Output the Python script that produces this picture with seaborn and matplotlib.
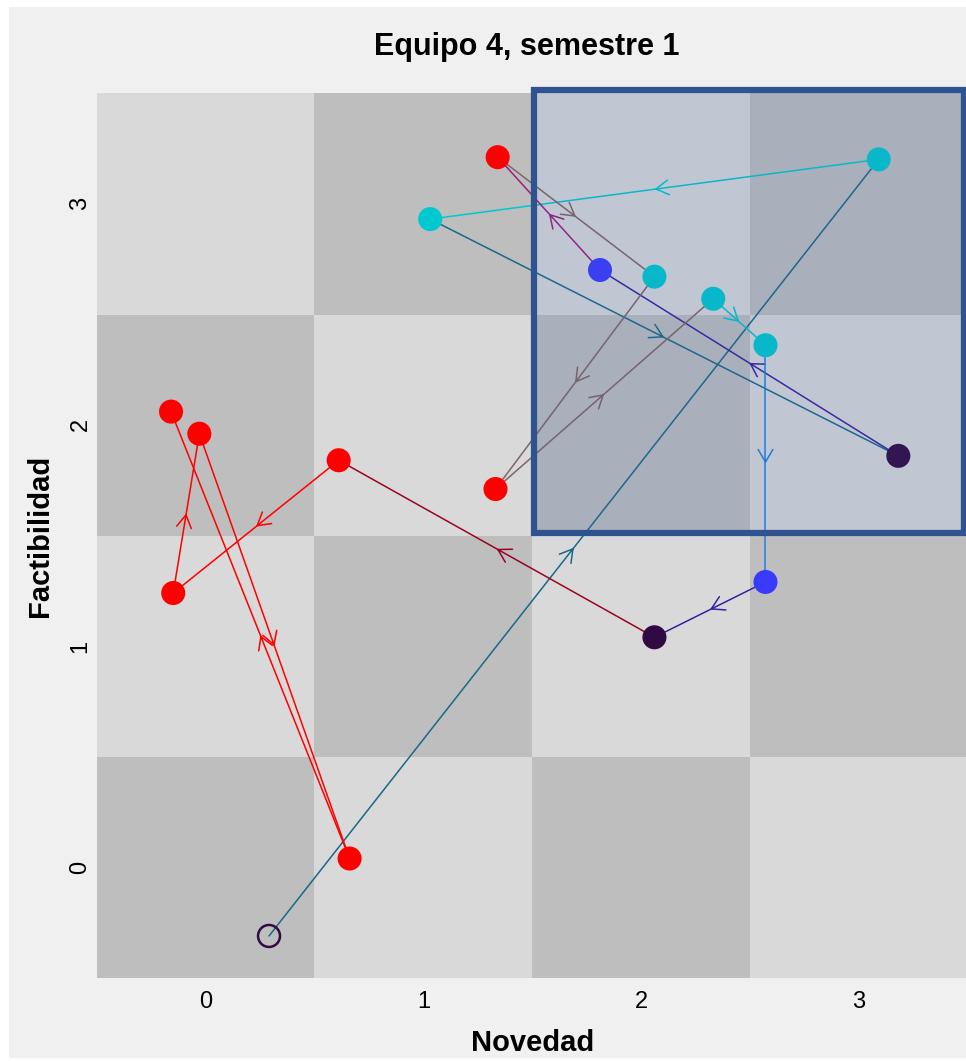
import numpy as np
import pandas as pd
import matplotlib
matplotlib.use("Agg")
import matplotlib.pyplot as plt
from matplotlib.patches import Rectangle
from matplotlib.colors import ListedColormap, to_rgb
import seaborn as sns

# Trayectoria del equipo 4 (en el orden de las intervenciones)
novedad = [0.29, 3.09, 1.03, 3.18, 1.81, 1.34, 2.06, 1.33, 2.33, 2.57, 2.57, 2.06, 0.61, -0.15, -0.03, 0.66, -0.16]
factibilidad = [-0.31, 3.20, 2.93, 1.86, 2.70, 3.21, 2.67, 1.71, 2.57, 2.36, 1.29, 1.04, 1.84, 1.24, 1.96, 0.04, 2.06]
tipo = ["morado", "cian", "cian", "morado", "azul", "rojo", "cian", "rojo", "cian",
        "cian", "azul", "morado", "rojo", "rojo", "rojo", "rojo", "rojo"]
niveles = [0, 1, 2, 3]

paleta = {"rojo": "#ff0000", "cian": "#00c8d0", "azul": "#3a3aff", "morado": "#300a42"}

df = pd.DataFrame({"novedad": novedad, "factibilidad": factibilidad, "tipo": tipo})


def dibujar(df):
    sns.set_theme(style="white")
    plt.rcParams["font.family"] = ["Liberation Sans", "DejaVu Sans"]
    plt.rcParams["text.color"] = "black"
    plt.rcParams["axes.labelcolor"] = "black"

    fig = plt.figure(figsize=(9.66, 10.61), dpi=100)
    fig.patch.set_facecolor("white")
    fig.add_artist(Rectangle((9 / 966, 3 / 1061), 1, 1051 / 1061, transform=fig.transFigure,
                             facecolor="#f0f0f0", edgecolor="none", zorder=-10))
    ax = fig.add_axes([97 / 966, 83 / 1061, 871 / 966, 885 / 1061])

    # tablero de fondo
    celdas = np.add.outer(range(len(niveles)), range(len(niveles))) % 2
    ax.imshow(celdas, extent=(-0.5, 3.5, -0.5, 3.5), origin="lower", aspect="auto",
              cmap=ListedColormap(["#bebebe", "#d9d9d9"]), interpolation="nearest", zorder=0)

    # tramos con flecha en el punto medio
    xs = df["novedad"].to_numpy()
    ys = df["factibilidad"].to_numpy()
    cols = [np.array(to_rgb(paleta[t])) for t in df["tipo"]]
    for i in range(len(df) - 1):
        c = (cols[i] + cols[i + 1]) / 2
        ax.plot([xs[i], xs[i + 1]], [ys[i], ys[i + 1]], color=c, lw=1.1, zorder=2)
        mx, my = (xs[i] + xs[i + 1]) / 2, (ys[i] + ys[i + 1]) / 2
        d = np.array([xs[i + 1] - xs[i], ys[i + 1] - ys[i]])
        d = d / np.linalg.norm(d)
        ax.annotate("", xy=(mx, my), xytext=(mx - 0.02 * d[0], my - 0.02 * d[1]),
                    arrowprops=dict(arrowstyle="->,head_length=0.65,head_width=0.38",
                                    color=c, lw=1.1, shrinkA=0, shrinkB=0, mutation_scale=14),
                    zorder=2)

    # puntos (el primero como círculo abierto)
    sns.scatterplot(data=df.iloc[1:], x="novedad", y="factibilidad", hue="tipo", palette=paleta,
                    s=300, linewidth=0, legend=False, ax=ax, zorder=3)
    ax.scatter(df["novedad"].iloc[:1], df["factibilidad"].iloc[:1], s=250, facecolors="none",
               edgecolors=paleta[df["tipo"].iloc[0]], linewidths=1.8, zorder=3)

    # zona resaltada
    ax.add_patch(Rectangle((1.506, 1.513), 1.975, 2.002, facecolor=(0.23, 0.38, 0.67, 0.15),
                           edgecolor="#2f5290", lw=4.5, clip_on=False, zorder=5))

    ax.set_xlim(-0.5, 3.5)
    ax.set_ylim(-0.5, 3.5)
    ax.set_xticks(niveles)
    ax.set_yticks(niveles)
    ax.tick_params(axis="both", length=0, labelsize=17, colors="black")
    ax.tick_params(axis="x", pad=9)
    ax.tick_params(axis="y", pad=4)
    for lab in ax.get_yticklabels():
        lab.set_rotation(90)
        lab.set_va("center")
    for s in ax.spines.values():
        s.set_visible(False)
    ax.grid(False)

    ax.set_xlabel("Novedad", fontsize=21, fontweight="bold", labelpad=12)
    ax.set_ylabel("Factibilidad", fontsize=21, fontweight="bold", labelpad=11)
    fig.text(527 / 966, 1 - 47 / 1061, "Equipo 4, semestre 1", fontsize=22, fontweight="bold",
             ha="center", va="center")

    fig.savefig("out.png", dpi=100)


if __name__ == "__main__":
    dibujar(df)
